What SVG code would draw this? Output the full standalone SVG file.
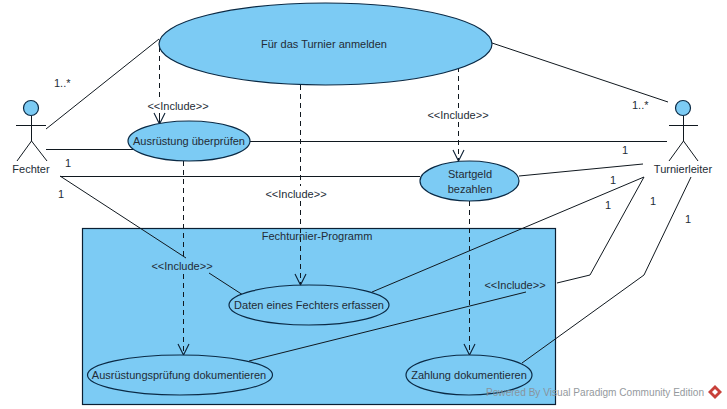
<svg xmlns="http://www.w3.org/2000/svg" width="727" height="409" viewBox="0 0 727 409">
<defs>
<marker id="open" markerUnits="userSpaceOnUse" markerWidth="14" markerHeight="14" refX="11" refY="5.500" orient="auto" overflow="visible"><path d="M0 0L11 5.500L0 11" fill="none" stroke="#0b1f33" stroke-width="1.1"/></marker>
</defs>
<style>
text{font-family:"Liberation Sans",Arial,sans-serif;font-size:11px;fill:#232c36}
.c{text-anchor:middle}
.n{fill:#7ccbf4;stroke:#0b2a45;stroke-width:1.2}
.a{fill:none;stroke:#10181f;stroke-width:1}
.d{fill:none;stroke:#10181f;stroke-width:1;stroke-dasharray:5 4}
.h{marker-end:url(#open)}
.s{fill:none;stroke:#10181f;stroke-width:1}
</style>
<rect width="727" height="409" fill="#fff"/>
<g id="system"><rect x="82.500" y="228.500" width="473" height="176" fill="#7ccbf4" stroke="#0b1f33" stroke-width="1.200"/><text class="c" x="317" y="240">Fechturnier-Programm</text></g>
<g id="connectors">
<path class="a" d="M46 129L159 39"/>
<path class="a" d="M46 149.500L134 149.500"/>
<path class="a" d="M250 141.500L667 141.500"/>
<path class="a" d="M60 176.500L420 176.500"/>
<path class="a" d="M519 176L643 164"/>
<path class="a" d="M60 176L186 258"/>
<path class="a" d="M209 273L243 295"/>
<path class="a" d="M372 292L644 177"/>
<path class="a" d="M249 361L526 292"/>
<path class="a" d="M557 283L590 275L644 177"/>
<path class="a" d="M522 363L644 275L691 177"/>
<path class="a" d="M492 43L668 102"/>
<path class="d" d="M159.500 47L159.500 98"/><path class="a h" d="M159.500 113L159.500 124"/>
<path class="d" d="M300.500 85L300.500 186"/><path class="d h" d="M300.500 201L300.500 285"/>
<path class="d" d="M458.500 67L458.500 109"/><path class="d h" d="M458.500 122L458.500 161"/>
<path class="d" d="M183.500 161L183.500 257"/><path class="d h" d="M183.500 274L183.500 355"/>
<path class="d h" d="M469.500 201L469.500 355"/>
</g>
<g id="use-anmelden"><ellipse class="n" cx="325.500" cy="44" rx="166.500" ry="41"/><text class="c" x="324" y="48">Für das Turnier anmelden</text></g>
<g id="use-ueberpruefen"><ellipse class="n" cx="189" cy="141" rx="61" ry="20"/><text class="c" x="189" y="145">Ausrüstung überprüfen</text></g>
<g id="use-startgeld"><ellipse class="n" cx="469.500" cy="181" rx="49.500" ry="20"/><text class="c" x="470" y="178">Startgeld</text><text class="c" x="470" y="193">bezahlen</text></g>
<g id="use-daten"><ellipse class="n" cx="309" cy="305" rx="80" ry="20"/><text class="c" x="309" y="309">Daten eines Fechters erfassen</text></g>
<g id="use-dokumentieren"><ellipse class="n" cx="180" cy="375" rx="92.500" ry="20"/><text class="c" x="179" y="379">Ausrüstungsprüfung dokumentieren</text></g>
<g id="use-zahlung"><ellipse class="n" cx="469" cy="375" rx="63" ry="20"/><text class="c" x="469" y="379">Zahlung dokumentieren</text></g>
<g id="actor-fechter"><circle class="n" cx="31" cy="108" r="7.500"/><path class="s" d="M31.500 116V141M16 125.500H46M17 161L31.500 141L47 161"/><text class="c" x="31" y="173">Fechter</text></g>
<g id="actor-turnierleiter"><circle class="n" cx="683" cy="108" r="7.500"/><path class="s" d="M683.500 116V141M669 125.500H698M669 161L683.500 141L698 161"/><text class="c" x="683" y="173">Turnierleiter</text></g>
<g id="labels">
<text x="54" y="87">1..*</text>
<text x="632" y="109">1..*</text>
<text x="65" y="167">1</text>
<text x="58" y="198">1</text>
<text x="622" y="154">1</text>
<text x="610" y="184">1</text>
<text x="605" y="209">1</text>
<text x="650" y="205">1</text>
<text x="685" y="223">1</text>
<text class="c" x="178" y="110">&lt;&lt;Include&gt;&gt;</text>
<text class="c" x="458" y="119">&lt;&lt;Include&gt;&gt;</text>
<text class="c" x="296" y="198">&lt;&lt;Include&gt;&gt;</text>
<text class="c" x="182" y="270">&lt;&lt;Include&gt;&gt;</text>
<text class="c" x="515" y="289">&lt;&lt;Include&gt;&gt;</text>
</g>
<g id="watermark"><text x="486" y="396" textLength="218" lengthAdjust="spacingAndGlyphs" style="fill:#8a8f94" opacity="0.9">Powered By  Visual Paradigm Community Edition</text><path d="M715 385L722 392L715 399L708 392Z" fill="#c8403a"/><path d="M715 389L718 392L715 395L712 392Z" fill="#fff"/></g>
</svg>
